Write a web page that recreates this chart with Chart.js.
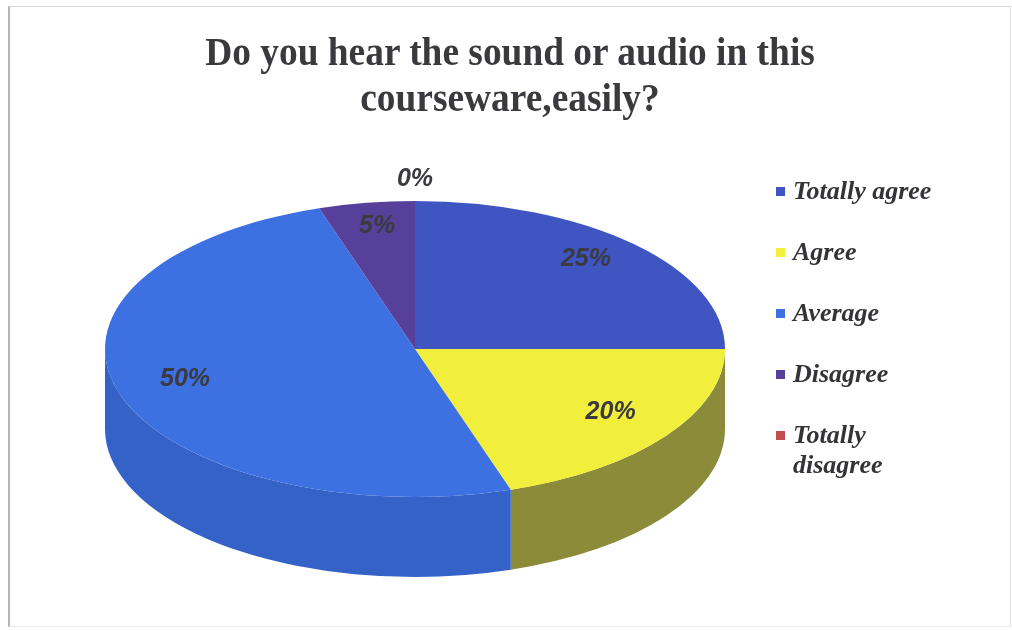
<!DOCTYPE html>
<html>
<head>
<meta charset="utf-8">
<script src="https://cdn.jsdelivr.net/npm/chart.js@4"></script>
<style>
  body { margin: 0; background: #fff; }
  #box {
    position: absolute; left: 8px; top: 6px; width: 1000px; height: 619px;
    border-left: 2px solid #b4b4b8; border-top: 1px solid #d4d4d8;
    border-right: 1px solid #e4e4e6; border-bottom: 1px solid #ececee;
  }
  #wrap { position: absolute; left: 0; top: 0; width: 1012px; height: 630px; }
  #titulo {
    position: absolute; left: 0; top: 29px; width: 1020px; text-align: center;
    font: bold 40px/46px "Liberation Serif", "Times New Roman", serif;
    color: #3a3a3e; transform: scaleX(0.935); transform-origin: 510px 0;
  }
  #leyenda {
    position: absolute; left: 774px; top: 176px;
    font: italic bold 26px "Liberation Serif", "Times New Roman", serif;
    color: #333338;
  }
  #leyenda div { position: relative; height: 61px; padding-left: 19px; line-height: 30px; }
  #leyenda span.cuadro {
    position: absolute; left: 2px; top: 11px; width: 9px; height: 9px;
  }
</style>
</head>
<body>
<div id="box"></div>
<div id="wrap"><canvas id="graficoPastel" width="1012" height="630"></canvas></div>
<div id="titulo"></div>
<div id="leyenda"></div>
<script>
// Datos de la encuesta
let respuestas = ['Totally agree', 'Agree', 'Average', 'Disagree', 'Totally disagree'];
let porcentajes = [25, 20, 50, 5, 0];
let coloresCara = ['#3f56c2', '#f2ee3c', '#3d70e0', '#56409a', '#c0504d'];
let coloresLado = ['#2f45a0', '#8c8b3a', '#3562c6', '#3f2f78', '#90403c'];
let titulo = ['Do you hear the sound or audio in this', 'courseware,easily?'];

// Posicion y forma del pastel en pantalla
let centroX = 415, centroY = 349;
let radioX = 310, radioY = 148, grosor = 80;

function transformar(ctx, arco) {
  let r = arco.outerRadius;
  ctx.translate(centroX, centroY);
  ctx.scale(radioX / r, radioY / r);
  ctx.translate(-arco.x, -arco.y);
}

// Dibuja el costado del pastel y aplasta la cara superior
let pastel3d = {
  id: 'pastel3d',
  beforeDatasetsDraw(chart) {
    let ctx = chart.ctx;
    let arcos = chart.getDatasetMeta(0).data;
    let a0 = arcos[0];
    let r = a0.outerRadius;
    let prof = grosor * r / radioY;
    ctx.save();
    transformar(ctx, a0);
    arcos.forEach(function (arco, i) {
      let s = arco.startAngle, e = arco.endAngle;
      [-2 * Math.PI, 0, 2 * Math.PI].forEach(function (base) {
        let ini = Math.max(s, base), fin = Math.min(e, base + Math.PI);
        if (fin <= ini) return;
        ctx.beginPath();
        ctx.arc(arco.x, arco.y, r, ini, fin);
        ctx.arc(arco.x, arco.y + prof, r, fin, ini, true);
        ctx.closePath();
        ctx.fillStyle = coloresLado[i];
        ctx.fill();
      });
    });
  },
  afterDatasetsDraw(chart) {
    let ctx = chart.ctx;
    ctx.restore();
    // etiquetas de porcentaje
    let arcos = chart.getDatasetMeta(0).data;
    ctx.save();
    ctx.font = 'italic bold 25px "Liberation Sans", Arial, sans-serif';
    ctx.fillStyle = '#3a3a40';
    ctx.textAlign = 'center';
    ctx.textBaseline = 'middle';
    arcos.forEach(function (arco, i) {
      let medio = (arco.startAngle + arco.endAngle) / 2;
      let fx = porcentajes[i] > 0 ? 0.78 : 1.15;
      let fy = porcentajes[i] > 0 ? 0.8 : 1.15;
      let x = centroX + Math.cos(medio) * radioX * fx;
      let y = centroY + Math.sin(medio) * radioY * fy - (porcentajes[i] > 0 ? 6 : 0);
      ctx.fillText(porcentajes[i] + '%', x, y);
    });
    ctx.restore();
  }
};

let canvas = document.getElementById('graficoPastel');
let graficapastel = new Chart(canvas, {
  type: 'pie',
  data: {
    labels: respuestas,
    datasets: [{
      data: porcentajes,
      backgroundColor: coloresCara,
      borderWidth: 0
    }]
  },
  options: {
    responsive: false,
    animation: false,
    layout: { padding: { top: 130, bottom: 10, left: 10, right: 10 } },
    plugins: {
      legend: { display: false },
      tooltip: { enabled: false }
    }
  },
  plugins: [pastel3d]
});

// Titulo en dos lineas
document.getElementById('titulo').innerHTML = titulo.join('<br>');

// Leyenda a la derecha
let leyenda = document.getElementById('leyenda');
respuestas.forEach(function (r, i) {
  let item = document.createElement('div');
  let cuadro = document.createElement('span');
  cuadro.className = 'cuadro';
  cuadro.style.background = coloresCara[i];
  item.appendChild(cuadro);
  item.appendChild(document.createTextNode(r));
  if (r === 'Totally disagree') item.style.width = '100px';
  leyenda.appendChild(item);
});
</script>
</body>
</html>
